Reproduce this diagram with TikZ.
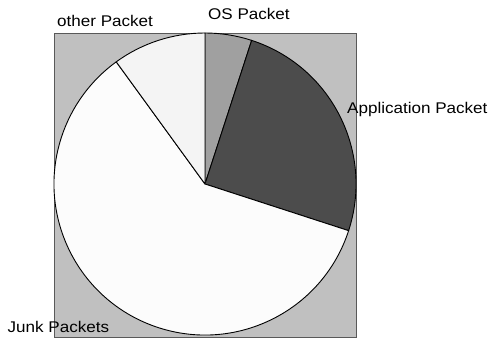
\documentclass[tikz,border=0pt]{standalone}
\usepackage{fontspec}
\setmainfont{Liberation Sans}
\newfontfamily\tagfont[FakeStretch=1.1]{Liberation Sans}
\usetikzlibrary{positioning}

\definecolor{panelgray}{HTML}{C0C0C0}
\definecolor{osgray}{HTML}{A0A0A0}
\definecolor{appgray}{HTML}{4C4C4C}
\definecolor{junkwhite}{HTML}{FCFCFC}
\definecolor{otherwhite}{HTML}{F4F4F4}

\begin{document}
\begin{tikzpicture}[
    x=1pt, y=1pt,
    panel/.style={fill=panelgray, draw=gray!70!black, line width=0.8pt},
    slice/.style={draw=black, line width=0.9pt, line join=round},
    tag/.style={font=\tagfont\fontsize{15.5}{18}\selectfont, inner sep=0pt, anchor=base west}
]
\useasboundingbox (0,0) rectangle (490,341);

% Plot area
\node[panel, minimum width=302pt, minimum height=304pt, inner sep=0pt] (plot) at (205,155.5) {};
\coordinate (c) at (205,157);

% Slices: start angle / end angle / colour
\foreach \a/\b/\col in {90/72/osgray, 72/-18/appgray, -18/-234/junkwhite, 126/90/otherwhite}
    \filldraw[slice, fill=\col] (c) -- ++(\a:151) arc[start angle=\a, end angle=\b, radius=151] -- cycle;

% Labels
\node[tag] (os) at (208,321) {OS Packet};
\node[tag] (other) at (57,314) {other Packet};
\node[tag] (app) at (347,228) {Application Packet};
\node[tag] (junk) at (7.5,8.7) {Junk Packets};

\end{tikzpicture}
\end{document}
